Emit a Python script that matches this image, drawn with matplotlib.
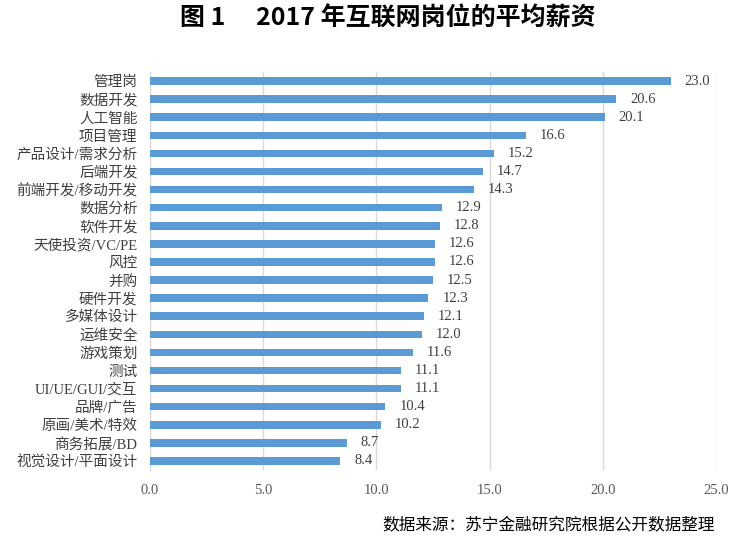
import matplotlib
matplotlib.use("Agg")
import matplotlib.pyplot as plt

categories = ["管理岗", "数据开发", "人工智能", "项目管理", "产品设计/需求分析", "后端开发",
              "前端开发/移动开发", "数据分析", "软件开发", "天使投资/VC/PE", "风控", "并购",
              "硬件开发", "多媒体设计", "运维安全", "游戏策划", "测试", "UI/UE/GUI/交互",
              "品牌/广告", "原画/美术/特效", "商务拓展/BD", "视觉设计/平面设计"]
values = [23.0, 20.6, 20.1, 16.6, 15.2, 14.7, 14.3, 12.9, 12.8, 12.6, 12.6, 12.5,
          12.3, 12.1, 12.0, 11.6, 11.1, 11.1, 10.4, 10.2, 8.7, 8.4]
xticks = [0, 5, 10, 15, 20, 25]

fam = ["Liberation Serif", "Noto Sans CJK SC", "DejaVu Sans"]
plt.rcParams["font.family"] = fam

fig = plt.figure(figsize=(7.38, 5.4), dpi=100)
ax = fig.add_axes([0.2033, 0.1296, 0.7667, 0.7371])

y = list(range(len(categories)))
ax.barh(y, values, height=0.42, color="#5B9BD5", zorder=3)
for yi, v in zip(y, values):
    ax.annotate(f"{v:.1f}", (v, yi), xytext=(10, 0), textcoords="offset points",
                va="center", ha="left", fontsize=10.5, color="#404040", family=fam)

ax.set_ylim(len(categories) - 0.5, -0.5)
ax.set_xlim(0, 25)
ax.set_xticks(xticks)
ax.set_xticklabels([f"{t:.1f}" for t in xticks], fontsize=10.5, color="#595959")
ax.set_yticks(y)
ax.set_yticklabels(categories, fontsize=10.5, color="#404040", fontweight="light")
ax.tick_params(axis="y", length=0, pad=9)
ax.tick_params(axis="x", length=0, pad=10)
ax.grid(axis="x", color="#D9D9D9", linewidth=1, zorder=0)
for s in ["top", "right", "bottom"]:
    ax.spines[s].set_visible(False)
ax.spines["left"].set_color("#D9D9D9")

fig.text(0.526, 0.966, "图 1\u3000 2017 年互联网岗位的平均薪资", ha="center", va="center",
         fontsize=18, fontweight="bold", family=["Noto Sans CJK SC", "DejaVu Sans"])
fig.text(0.969, 0.028, "数据来源：苏宁金融研究院根据公开数据整理", ha="right", va="center",
         fontsize=12, style="italic", family=["Noto Sans CJK SC", "DejaVu Sans"])

fig.savefig("out.png", dpi=100)
